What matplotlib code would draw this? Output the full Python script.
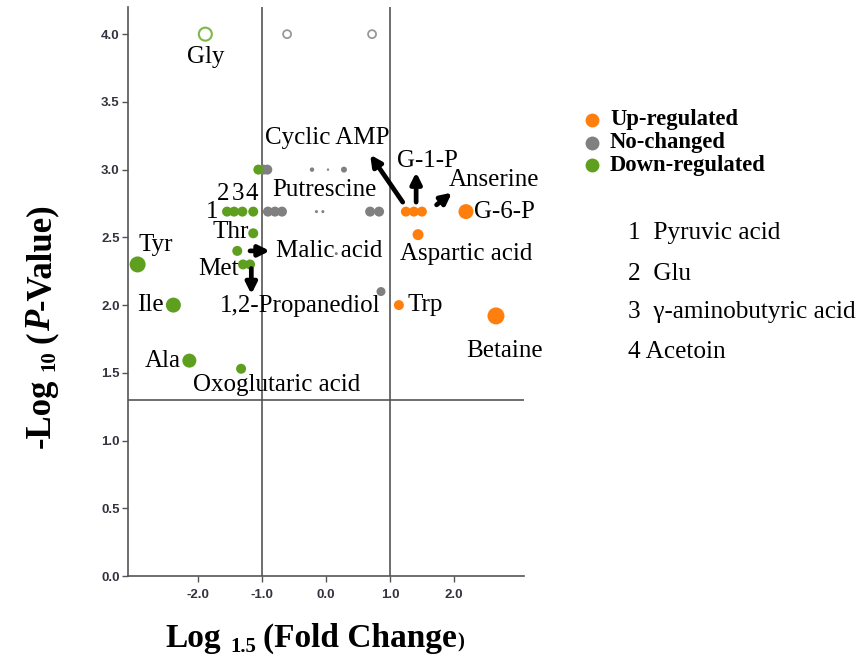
import matplotlib
matplotlib.use("Agg")
import matplotlib.pyplot as plt
from matplotlib.lines import Line2D

plt.rcParams['font.family'] = ['Liberation Serif', 'DejaVu Serif']
plt.rcParams['axes.unicode_minus'] = False

# x = log1.5(fold change), y = -log10(p)
up_fc = [1.25, 1.375, 1.50, 2.19, 1.44, 1.14, 2.66]
up_p = [2.69, 2.69, 2.69, 2.69, 2.52, 2.00, 1.92]

nc_fc = [-0.98, -0.92, -0.22, 0.03, 0.28, -0.91, -0.80, -0.69,
         -0.15, -0.05, 0.69, 0.83, 0.86, 0.16]
nc_p = [3.00, 3.00, 3.00, 3.00, 3.00, 2.69, 2.69, 2.69,
        2.69, 2.69, 2.69, 2.69, 2.10, 2.38]
nc_open_fc = [-0.61, 0.72]
nc_open_p = [4.00, 4.00]

dn_fc = [-1.06, -1.55, -1.44, -1.31, -1.14, -1.14, -1.39, -1.30, -1.19,
         -2.95, -2.39, -2.14, -1.33]
dn_p = [3.00, 2.69, 2.69, 2.69, 2.69, 2.53, 2.40, 2.30, 2.30,
        2.30, 2.00, 1.59, 1.53]
dn_open_fc = [-1.89]
dn_open_p = [4.00]

# dot radius in pixels, one per point
up_dot = [5, 5, 5, 7.5, 5.5, 5, 8.5]
nc_dot = [5, 5, 2.2, 1.2, 3, 5, 5, 5, 1.5, 1.5, 5, 5, 4.5, 1.5]
dn_dot = [5, 5, 5, 5, 5, 5, 5, 5, 5, 8, 7.5, 7, 5]

legend_names = ['Up-regulated', 'No-changed', 'Down-regulated']
key_names = ['1  Pyruvic acid', '2  Glu', '3  \u03b3-aminobutyric acid', '4 Acetoin']

# (name, x, y) text placement in data units
labels = [
    ('Gly', -1.89, 3.83), ('Cyclic AMP', 0.02, 3.23), ('G-1-P', 1.59, 3.06),
    ('Anserine', 2.63, 2.92), ('G-6-P', 2.80, 2.69), ('Aspartic acid', 2.20, 2.38),
    ('Trp', 1.55, 2.00), ('Putrescine', -0.02, 2.85), ('Malic acid', 0.05, 2.40),
    ('1,2-Propanediol', -0.41, 1.99), ('Thr', -1.50, 2.54), ('Met', -1.69, 2.27),
    ('1', -1.78, 2.69), ('2', -1.61, 2.82), ('3', -1.38, 2.82), ('4', -1.16, 2.82),
    ('Tyr', -2.66, 2.44), ('Ile', -2.75, 2.00), ('Ala', -2.55, 1.59),
    ('Oxoglutaric acid', -0.78, 1.41), ('Betaine', 2.80, 1.66),
]

# (tail, head) for the pointer arrows
arrows = [
    ((1.20, 2.76), (0.69, 3.11)),
    ((1.41, 2.76), (1.41, 2.98)),
    ((1.73, 2.74), (1.97, 2.83)),
    ((-1.19, 2.40), (-0.88, 2.40)),
    ((-1.17, 2.27), (-1.17, 2.08)),
]

ORANGE = '#FF7F0E'
GRAY = '#808080'
GREEN = '#5E9F1F'
LINE = '#555555'


def area(radii):
    return [(2 * r * 0.72) ** 2 for r in radii]


fig = plt.figure(figsize=(8.61, 6.59), dpi=100)
ax = fig.add_axes([0.1487, 0.1259, 0.46, 0.8634])

ax.axvline(-1, color=LINE, lw=1.2, zorder=1)
ax.axvline(1, color=LINE, lw=1.2, zorder=1)
ax.axhline(1.3, color=LINE, lw=1.2, zorder=1)

ax.scatter(nc_fc, nc_p, s=area(nc_dot), color=GRAY, edgecolors='none', zorder=3)
ax.scatter(up_fc, up_p, s=area(up_dot), color=ORANGE, edgecolors='none', zorder=3)
ax.scatter(dn_fc, dn_p, s=area(dn_dot), color=GREEN, edgecolors='none', zorder=3)
ax.scatter(nc_open_fc, nc_open_p, s=area([4, 4]), facecolors='none',
           edgecolors='#999999', linewidths=1.3, zorder=3)
ax.scatter(dn_open_fc, dn_open_p, s=area([6.5]), facecolors='none',
           edgecolors='#7DB84A', linewidths=1.5, zorder=3)

for name, x, y in labels:
    ax.text(x, y, name, fontsize=18, ha='center', va='center', zorder=4)

for tail, head in arrows:
    ax.annotate('', xy=head, xytext=tail,
                arrowprops=dict(arrowstyle='-|>', color='black', lw=3.4,
                                mutation_scale=16, shrinkA=0, shrinkB=0),
                zorder=4)

ax.set_xlim(-3.1, 3.1)
ax.set_ylim(0, 4.2)
ax.set_xticks([-2, -1, 0, 1, 2])
ax.set_yticks([0, 0.5, 1, 1.5, 2, 2.5, 3, 3.5, 4])
ax.xaxis.set_major_formatter('{x:.1f}')
ax.yaxis.set_major_formatter('{x:.1f}')
ax.tick_params(length=4, width=1, color=LINE, pad=2,
               labelsize=9.5, labelcolor='#333340')
for t in ax.get_xticklabels() + ax.get_yticklabels():
    t.set_fontfamily('Liberation Sans')
    t.set_fontweight('bold')
ax.tick_params(axis='x', pad=5)
for side in ['top', 'right']:
    ax.spines[side].set_visible(False)
for side in ['left', 'bottom']:
    ax.spines[side].set_color(LINE)
    ax.spines[side].set_linewidth(1.2)

# legend drawn by hand at the right of the plot
for i, (name, col) in enumerate(zip(legend_names, [ORANGE, GRAY, GREEN])):
    yy = (659 - (120 + 22.5 * i)) / 659
    fig.add_artist(Line2D([592 / 861], [yy], transform=fig.transFigure,
                          marker='o', ms=10, color=col, mec='none', ls=''))
    fig.text(610 / 861, yy, name, fontsize=16.3, fontweight='bold',
             va='center', ha='left')

for i, (name, ypx) in enumerate(zip(key_names, [233, 274, 312, 352])):
    fig.text(628 / 861, (659 - ypx) / 659, name, fontsize=18.2,
             va='center', ha='left')


def chain(pieces, x0, y0, vertical=False):
    """Write a label from pieces (text, size, style, gap_pt, drop_pt)."""
    prev = None
    for text, size, style, gap, drop in pieces:
        kw = dict(fontsize=size, fontweight='bold', fontstyle=style,
                  ha='left', va='baseline')
        if vertical:
            kw.update(rotation=90, rotation_mode='anchor')
        if prev is None:
            if vertical:
                prev = fig.text(x0 + drop / 72 * 100 / 861, y0, text, **kw)
            else:
                prev = fig.text(x0, y0 - drop / 72 * 100 / 659, text, **kw)
            continue
        if vertical:
            prev = ax.annotate(text, xy=(x0, 1),
                               xycoords=('figure fraction', prev),
                               xytext=(drop, gap), textcoords='offset points',
                               annotation_clip=False, **kw)
        else:
            prev = ax.annotate(text, xy=(1, y0),
                               xycoords=(prev, 'figure fraction'),
                               xytext=(gap, -drop), textcoords='offset points',
                               annotation_clip=False, **kw)


chain([('Log', 24, 'normal', 0, 0),
       ('1.5', 15, 'normal', 7, 3.5),
       ('(Fold Change', 24, 'normal', 5, 0),
       (')', 15, 'normal', 0.5, 0)],
      165 / 861, 12 / 659)

chain([('-Log', 25, 'normal', 0, 0),
       ('10', 15, 'normal', 5.5, 3.5),
       ('(', 25, 'normal', 5.5, 0),
       ('P', 25, 'italic', 0, 0),
       ('-Value)', 25, 'normal', 0, 0)],
      50 / 861, 211 / 659, vertical=True)

fig.savefig('out.png', dpi=100)
